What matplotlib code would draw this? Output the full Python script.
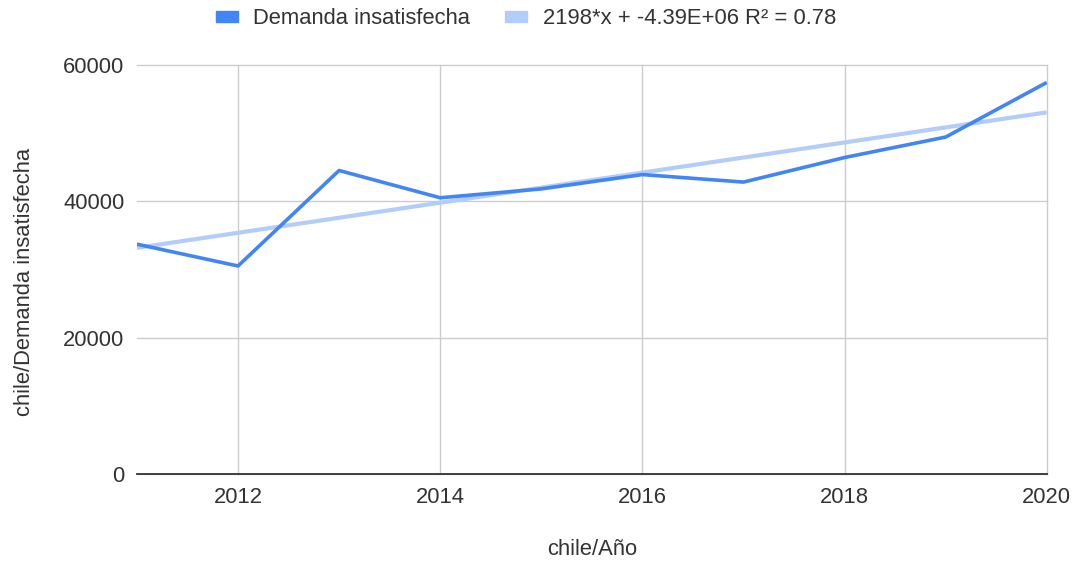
import numpy as np
import matplotlib.pyplot as plt
from matplotlib.patches import Patch

years = [2011, 2012, 2013, 2014, 2015, 2016, 2017, 2018, 2019, 2020]
demanda = [33700, 30500, 44500, 40500, 41800, 43900, 42800, 46400, 49400, 57400]
y_ticks = [0, 20000, 40000, 60000]
x_ticks = [2012, 2014, 2016, 2018, 2020]

plt.rcParams['font.family'] = ['Liberation Sans', 'DejaVu Sans']

fig = plt.figure(figsize=(10.78, 5.63), dpi=100)
ax = fig.add_axes([0.127, 0.158, 0.844, 0.727])

# linea de tendencia calculada sobre los datos
slope, intercept = np.polyfit(years, demanda, 1)
trend = [slope * x + intercept for x in years]

ax.plot(years, trend, color='#b3cdfb', lw=3, solid_capstyle='butt', zorder=2)
ax.plot(years, demanda, color='#4285f4', lw=2.6, solid_capstyle='butt', zorder=3)

ax.set_xlim(2011, 2020)
ax.set_ylim(0, 60000)
ax.set_xticks(x_ticks)
ax.set_yticks(y_ticks)
ax.grid(True, color='#cccccc', lw=1)
ax.set_axisbelow(True)
for g in ax.get_xgridlines() + ax.get_ygridlines():
    g.set_clip_on(False)
for s in ['top', 'left', 'right']:
    ax.spines[s].set_visible(False)
ax.spines['bottom'].set_color('#333333')
ax.spines['bottom'].set_linewidth(1.3)
ax.spines['bottom'].set_zorder(4)
fs = 15.8
ax.tick_params(length=0, labelsize=fs, colors='#333333', pad=9)
ax.tick_params(axis='x', pad=9)

ax.set_xlabel('chile/Año', fontsize=fs, color='#333333', labelpad=23)
ax.set_ylabel('chile/Demanda insatisfecha', fontsize=fs, color='#333333', labelpad=20)
ax.yaxis.label.set_y(0.47)

handles = [Patch(color='#4285f4'), Patch(color='#b3cdfb')]
labels = ['Demanda insatisfecha', '2198*x + -4.39E+06 R² = 0.78']
fig.legend(handles, labels, loc='center', bbox_to_anchor=(0.488, 0.967), ncol=2,
           frameon=False, fontsize=fs, handlelength=1.0, handleheight=0.4,
           handletextpad=0.7, columnspacing=1.6, labelcolor='#333333')

fig.savefig('out.png', dpi=100)
